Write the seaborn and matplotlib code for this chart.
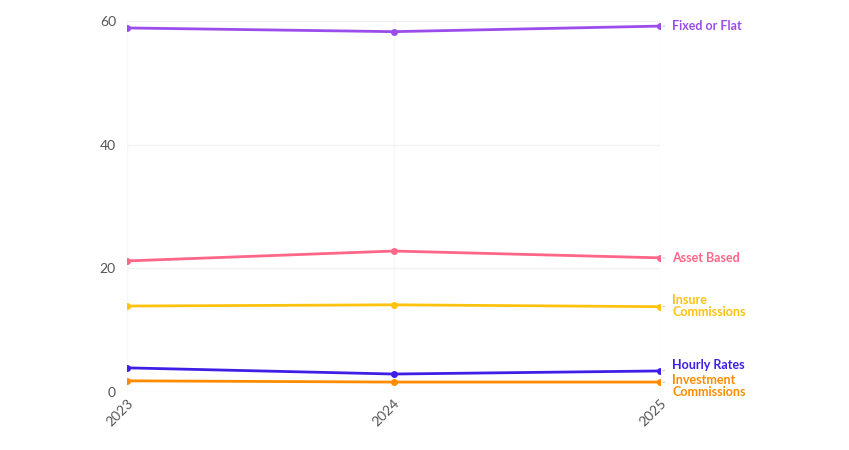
import matplotlib
matplotlib.use("Agg")
import matplotlib.pyplot as plt
import seaborn as sns
import pandas as pd

# Values
years = ["2023", "2024", "2025"]
fixed_flat = [58.9, 58.3, 59.2]
asset_based = [21.2, 22.8, 21.7]
insure_comm = [13.9, 14.1, 13.8]
hourly_rates = [3.9, 2.9, 3.4]
invest_comm = [1.8, 1.6, 1.6]

series_names = ["Fixed or Flat", "Asset Based", "Insure\nCommissions",
                "Hourly Rates", "Investment\nCommissions"]
series_values = [fixed_flat, asset_based, insure_comm, hourly_rates, invest_comm]
colors = ["#9B4DEB", "#FF6687", "#FFC20E", "#3F1FE6", "#FF8C00"]
# vertical placement of the end labels (data units)
label_y = [59.2, 21.7, 13.9, 4.3, 1.0]

rows = []
for name, vals in zip(series_names, series_values):
    for yr, v in zip(years, vals):
        rows.append({"year": int(yr), "value": v, "series": name})
df = pd.DataFrame(rows)

sns.set_style("white")
plt.rcParams["font.family"] = ["Lato", "DejaVu Sans"]

fig = plt.figure(figsize=(8.49, 4.5), dpi=100)
ax = fig.add_axes([0.1496, 0.129, 0.628, 0.824])

sns.lineplot(data=df, x="year", y="value", hue="series", hue_order=series_names,
             palette=colors, marker="o", markersize=5, markeredgewidth=0,
             linewidth=2, legend=False, ax=ax)

ax.set_xlim(2023, 2025)
ax.set_ylim(0, 60)
ax.set_yticks([0, 20, 40, 60])
ax.set_xticks([int(y) for y in years], years, rotation=45, ha="right",
              rotation_mode="anchor")
ax.tick_params(axis="both", length=0, labelsize=10, labelcolor="#555555")
ax.tick_params(axis="y", pad=8)
ax.tick_params(axis="x", pad=4)
ax.grid(True, axis="y", color="#f2f2f2", linewidth=1)
ax.grid(True, axis="x", color="#f7f7f7", linewidth=1)
ax.set_axisbelow(True)
for s in ax.spines.values():
    s.set_visible(False)
ax.set_xlabel("")
ax.set_ylabel("")

for name, vals, c, ly in zip(series_names, series_values, colors, label_y):
    ax.annotate(name, xy=(2025, vals[-1]), xytext=(2025.045, ly),
                textcoords="data", color=c, fontsize=9, fontweight="bold",
                va="center", ha="left", linespacing=0.95, annotation_clip=False,
                arrowprops=dict(arrowstyle="-", color="#cccccc", lw=0.8,
                                shrinkA=3, shrinkB=2))

fig.savefig("out.png", dpi=100)
